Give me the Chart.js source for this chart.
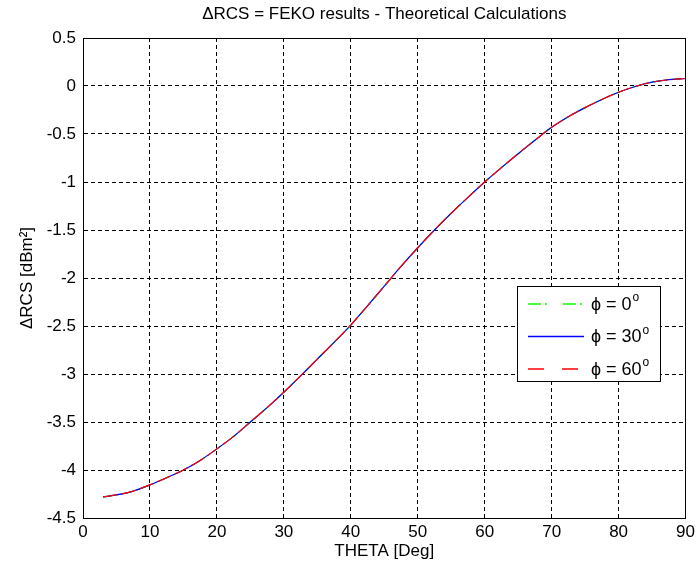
<!DOCTYPE html>
<html>
<head>
<meta charset="utf-8">
<script src="https://cdn.jsdelivr.net/npm/chart.js@4.4.0/dist/chart.umd.min.js"></script>
<style>
  html, body { margin: 0; padding: 0; background: #fff; }
  #wrap { width: 699px; height: 571px; }
</style>
</head>
<body>
<div id="wrap"><canvas id="rcsChart" width="699" height="571"></canvas></div>
<script>
// ---- data ----
const chartTitle = "ΔRCS = FEKO results - Theoretical Calculations";
const xTitle = "THETA [Deg]";
const yTitle = "ΔRCS [dBm²]";

const theta = [3, 5, 7.5, 10, 12.5, 15, 17.5, 20, 22.5, 25, 27.5, 30, 32.5, 35, 37.5, 40,
  42.5, 45, 47.5, 50, 52.5, 55, 57.5, 60, 62.5, 65, 67.5, 70, 72.5, 75, 77.5, 80, 82.5, 85, 87.5, 90];

const rcsPhi0 = [-4.28, -4.26, -4.22, -4.155, -4.08, -4.00, -3.90, -3.78, -3.65, -3.50, -3.35, -3.19,
  -3.02, -2.845, -2.67, -2.49, -2.29, -2.085, -1.88, -1.685, -1.50, -1.325, -1.16, -1.00,
  -0.85, -0.705, -0.565, -0.43, -0.32, -0.225, -0.14, -0.065, -0.005, 0.04, 0.066, 0.078];
const rcsPhi30 = [-4.28, -4.26, -4.22, -4.155, -4.08, -4.00, -3.90, -3.78, -3.65, -3.50, -3.35, -3.19,
  -3.02, -2.845, -2.67, -2.49, -2.29, -2.085, -1.88, -1.685, -1.50, -1.325, -1.16, -1.00,
  -0.85, -0.705, -0.565, -0.43, -0.32, -0.225, -0.14, -0.065, -0.005, 0.04, 0.066, 0.078];
const rcsPhi60 = [-4.28, -4.26, -4.22, -4.155, -4.08, -4.00, -3.90, -3.78, -3.65, -3.50, -3.35, -3.19,
  -3.02, -2.845, -2.67, -2.49, -2.29, -2.085, -1.88, -1.685, -1.50, -1.325, -1.16, -1.00,
  -0.85, -0.705, -0.565, -0.43, -0.32, -0.225, -0.14, -0.065, -0.005, 0.04, 0.066, 0.078];

const seriesNames = ["ϕ = 0", "ϕ = 30", "ϕ = 60"];   // degree sign drawn as superscript "o"

const FONT = '"Liberation Sans", Arial, sans-serif';

function toPoints(ys) {
  return theta.map((t, i) => ({ x: t, y: ys[i] }));
}

// frame, title and MATLAB-style legend box inside the axes
const matlabDecor = {
  id: "matlabDecor",
  beforeDraw(chart) {
    const ctx = chart.ctx;
    ctx.save();
    ctx.fillStyle = "#fff";
    ctx.fillRect(0, 0, chart.width, chart.height);
    ctx.restore();
  },
  afterDraw(chart) {
    const ctx = chart.ctx;
    const a = chart.chartArea;
    ctx.save();
    ctx.setLineDash([]);
    ctx.strokeStyle = "#000";
    ctx.lineWidth = 1;
    ctx.strokeRect(Math.round(a.left) + 0.5, Math.round(a.top) + 0.5,
      Math.round(a.right - a.left) - 1, Math.round(a.bottom - a.top));

    // title centred over the axes
    ctx.fillStyle = "#000";
    ctx.font = "17px " + FONT;
    ctx.textAlign = "center";
    ctx.textBaseline = "middle";
    ctx.fillText(chartTitle, (a.left + a.right) / 2, 14);

    // legend
    const bx = 517.5, by = 286.5, bw = 143, bh = 95;
    ctx.fillStyle = "#fff";
    ctx.fillRect(bx, by, bw, bh);
    ctx.strokeStyle = "#000";
    ctx.strokeRect(bx, by, bw, bh);
    const rows = [304, 336.5, 369];
    chart.data.datasets.forEach((ds, i) => {
      const y = rows[i];
      ctx.strokeStyle = ds.borderColor;
      ctx.lineWidth = 1.5;
      ctx.setLineDash(ds.legendDash);
      ctx.beginPath();
      ctx.moveTo(528, y);
      ctx.lineTo(584, y);
      ctx.stroke();
      ctx.setLineDash([]);
      ctx.fillStyle = "#000";
      ctx.textAlign = "left";
      ctx.textBaseline = "middle";
      ctx.font = "18px " + FONT;
      ctx.fillText(ds.label, 591, y + 1);
      const w = ctx.measureText(ds.label).width;
      ctx.font = "12px " + FONT;
      ctx.fillText("o", 591 + w + 1, y - 6);
    });
    ctx.restore();
  }
};

const ctx = document.getElementById("rcsChart").getContext("2d");
const rcsChart = new Chart(ctx, {
  type: "line",
  data: {
    datasets: [
      { label: seriesNames[0], data: toPoints(rcsPhi0), borderColor: "#00ff00", borderWidth: 1.2,
        borderDash: [10, 4, 2, 4], legendDash: [13, 4, 2, 16], order: 3 },
      { label: seriesNames[1], data: toPoints(rcsPhi30), borderColor: "#0000ff", borderWidth: 1.2,
        borderDash: [], legendDash: [], order: 2 },
      { label: seriesNames[2], data: toPoints(rcsPhi60), borderColor: "#ff0000", borderWidth: 1.2,
        borderDash: [14, 5], legendDash: [16, 18], order: 1 }
    ]
  },
  options: {
    responsive: false,
    animation: false,
    devicePixelRatio: 1,
    layout: { padding: { top: 38, right: 9, left: 0, bottom: 0 } },
    elements: {
      point: { radius: 0 },
      line: { cubicInterpolationMode: "monotone", fill: false }
    },
    plugins: {
      legend: { display: false },
      title: { display: false },
      tooltip: { enabled: false }
    },
    scales: {
      x: {
        type: "linear", min: 0, max: 90,
        afterFit: (s) => { s.height = 53; },
        grid: { color: "#000", lineWidth: 1, drawTicks: false },
        border: { display: true, color: "#000", width: 1, dash: [4, 3] },
        ticks: { stepSize: 10, color: "#000", padding: 4, font: { family: FONT, size: 17 },
          callback: (v) => String(v) },
        title: { display: true, text: xTitle, color: "#000", font: { family: FONT, size: 17 },
          padding: { top: 0, bottom: 9 } }
      },
      y: {
        type: "linear", min: -4.5, max: 0.5,
        afterFit: (s) => { s.width = 83; },
        grid: { color: "#000", lineWidth: 1, drawTicks: false },
        border: { display: true, color: "#000", width: 1, dash: [4, 3] },
        ticks: { stepSize: 0.5, color: "#000", padding: 7, font: { family: FONT, size: 17 },
          callback: (v) => String(Number(v.toFixed(1))) },
        title: { display: true, text: yTitle, color: "#000", font: { family: FONT, size: 17 },
          padding: { top: 17, bottom: 0 } }
      }
    }
  },
  plugins: [matlabDecor]
});
</script>
</body>
</html>
